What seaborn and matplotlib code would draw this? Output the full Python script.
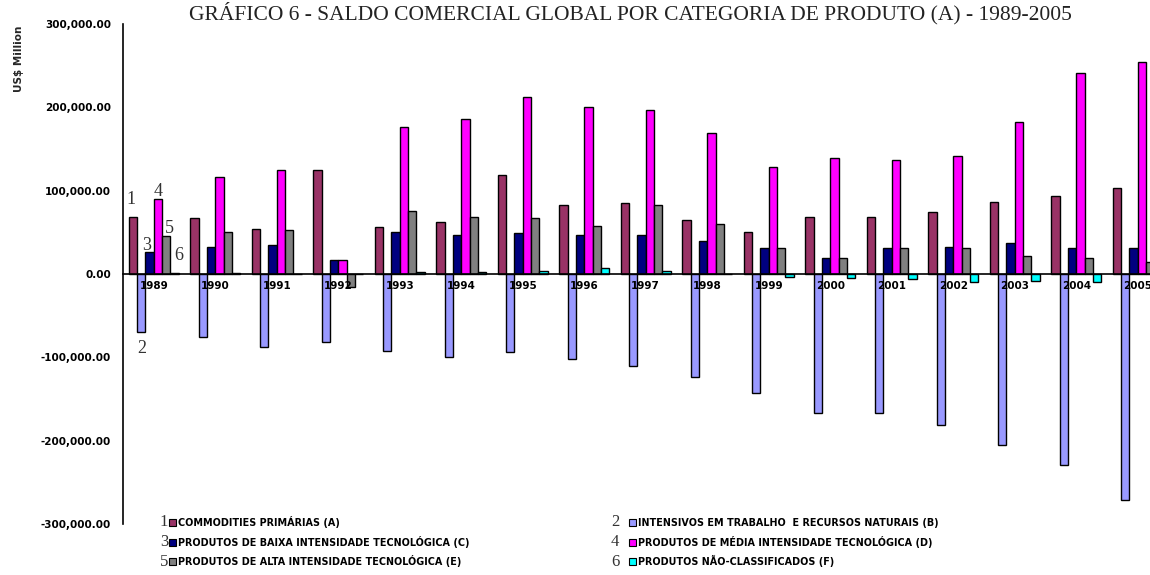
import matplotlib
matplotlib.use("Agg")
import matplotlib.pyplot as plt
from matplotlib.patches import Rectangle
from matplotlib.ticker import FuncFormatter, FixedLocator
import numpy as np
import pandas as pd
import seaborn as sns

# Trade balance by product category, US$ million
anos = [str(a) for a in range(1989, 2006)]
commodities_primarias = [69000, 67000, 54000, 125000, 56000, 62000, 119000, 83000, 85000,
                         65000, 51000, 69000, 69000, 74000, 87000, 94000, 103000]
intensivos_trabalho = [-69500, -75500, -87500, -81000, -92000, -99000, -94000, -102000, -110000,
                       -123000, -143000, -167000, -167000, -181000, -205000, -229000, -271000]
baixa_intensidade = [26000, 33000, 35000, 17000, 51000, 47000, 49000, 47000, 47000,
                     40000, 31000, 19000, 31000, 33000, 37000, 31000, 31000]
media_intensidade = [90000, 117000, 125000, 17000, 177000, 186000, 212000, 200000, 197000,
                     169000, 128000, 139000, 137000, 142000, 182000, 241000, 255000]
alta_intensidade = [46000, 51000, 53000, -16000, 76000, 69000, 67000, 58000, 83000,
                    60000, 31000, 19000, 31000, 31000, 22000, 19500, 15000]
nao_classificados = [1200, 1500, 300, 300, 2000, 2000, 4000, 7000, 4000,
                     500, -3000, -5000, -5500, -9000, -8000, -10000, -9000]

categorias = [
    "COMMODITIES PRIMÁRIAS (A)",
    "INTENSIVOS EM TRABALHO  E RECURSOS NATURAIS (B)",
    "PRODUTOS DE BAIXA INTENSIDADE TECNOLÓGICA (C)",
    "PRODUTOS DE MÉDIA INTENSIDADE TECNOLÓGICA (D)",
    "PRODUTOS DE ALTA INTENSIDADE TECNOLÓGICA (E)",
    "PRODUTOS NÃO-CLASSIFICADOS (F)",
]
series = [commodities_primarias, intensivos_trabalho, baixa_intensidade,
          media_intensidade, alta_intensidade, nao_classificados]
cores = ["#993366", "#9999FF", "#000080", "#FF00FF", "#808080", "#00FFFF"]
titulo = "GRÁFICO 6 - SALDO COMERCIAL GLOBAL POR CATEGORIA DE PRODUTO (A) - 1989-2005"
rotulo_y = "US$ Million"

df = pd.DataFrame({
    "ano": np.tile(anos, len(categorias)),
    "categoria": np.repeat(categorias, len(anos)),
    "valor": np.concatenate(series),
})

W, H = 1150, 575
def fx(px):
    return px / W
def fy(py):
    return 1 - py / H

sns.set_theme(style="white")
plt.rcParams["font.family"] = ["DejaVu Sans"]

fig = plt.figure(figsize=(11.5, 5.75), dpi=100)
ax = fig.add_axes([fx(123), fy(524), fx(1168.5) - fx(123), fy(24) - fy(524)])

sns.barplot(data=df, x="ano", y="valor", hue="categoria", hue_order=categorias,
            order=anos, palette=cores, saturation=1, width=0.815,
            edgecolor="black", linewidth=1, legend=False, ax=ax)

ax.set_ylim(-300000, 300000)
ax.set_xlim(-0.5, len(anos) - 0.5)
ax.set_yticks(np.arange(-300000, 300001, 100000))
ax.yaxis.set_major_formatter(FuncFormatter(lambda v, p: f"{v:,.2f}"))
ax.set_xlabel("")
ax.set_ylabel("")

for s in ["top", "right"]:
    ax.spines[s].set_visible(False)
ax.spines["bottom"].set_position(("data", 0))
for s in ["left", "bottom"]:
    ax.spines[s].set_color("black")
    ax.spines[s].set_linewidth(1.2)
ax.set_axisbelow(False)

lbl_font = dict(fontfamily="DejaVu Sans", fontweight="bold", fontsize=7.5)
ax.tick_params(axis="y", direction="out", length=4.5, width=1, pad=4, colors="black")
ax.tick_params(axis="x", which="major", length=0, pad=5, colors="black")
ax.xaxis.set_minor_locator(FixedLocator(np.arange(0.5, len(anos), 1)))
ax.tick_params(axis="x", which="minor", direction="out", length=3, width=1, colors="black")
for t in ax.get_xticklabels() + ax.get_yticklabels():
    t.set_fontweight("bold")
    t.set_fontsize(7.5)

# Series numbers over the first group of bars
offsets = [(-1.5, 9.1), (0.5, -15.2), (-2.4, 1.7), (0, 1.9), (2.4, 2.2), (3.0, 9.0)]
for i, cont in enumerate(ax.containers):
    bar = cont.patches[0]
    cx = bar.get_x() + bar.get_width() / 2
    val = series[i][0]
    ax.annotate(str(i + 1), xy=(cx, val), xytext=offsets[i], textcoords="offset points",
                ha="center", va="baseline", fontsize=13, fontfamily="Liberation Serif",
                color="#333333", annotation_clip=False)

# Axis unit label
fig.text(fx(19), fy(59), rotulo_y, rotation=90, ha="center", va="center", **lbl_font)

# Title along the top edge, to the right of the value labels
fig.text(fx(1072), fy(19), titulo, fontfamily="Liberation Serif", fontsize=15.5,
         ha="right", va="baseline", color="#222222")

# Legend: two columns, each entry = series number, colour square, label
col_x = [(164, 169, 178), (615, 629, 638)]   # number centre, square left, label left
row_y = [522, 542, 561.5]
sq = 7
for i, (nome, cor) in enumerate(zip(categorias, cores)):
    col, row = i % 2, i // 2
    xn, xs, xt = col_x[col]
    yc = row_y[row]
    fig.text(fx(xn), fy(yc + 4.5), str(i + 1), fontfamily="Liberation Serif",
             fontsize=12, ha="center", va="baseline", color="#333333")
    fig.add_artist(Rectangle((fx(xs), fy(yc + sq / 2)), sq / W, sq / H,
                             facecolor=cor, edgecolor="black", linewidth=0.8,
                             transform=fig.transFigure))
    fig.text(fx(xt), fy(yc + 3.5), nome, fontfamily="DejaVu Sans", fontweight="bold",
             fontsize=6.9, ha="left", va="baseline", color="black")

fig.savefig("out.png", dpi=100)
